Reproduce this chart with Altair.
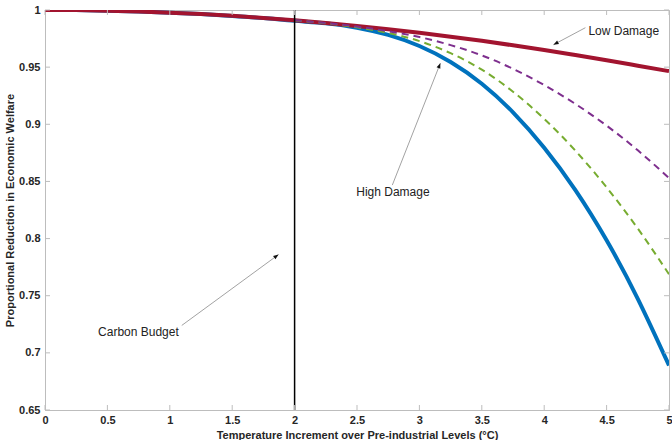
import math
import altair as alt
import pandas as pd

# ---------------- data ----------------
temps = [0, 0.25, 0.5, 0.75, 1, 1.25, 1.5, 1.75, 2, 2.25, 2.5, 2.75, 3,
         3.25, 3.5, 3.75, 4, 4.25, 4.5, 4.75, 5]
low_damage = [1.0, 0.9999, 0.9994, 0.9987, 0.9977, 0.9965, 0.9949, 0.9931,
              0.9910, 0.9886, 0.9860, 0.9831, 0.9800, 0.9766, 0.9730, 0.9691,
              0.9650, 0.9606, 0.9561, 0.9513, 0.9465]
high_damage = [1.0, 0.9999, 0.9994, 0.9987, 0.9977, 0.9964, 0.9948, 0.9929,
               0.9905, 0.9884, 0.9845, 0.9782, 0.9685, 0.9545, 0.9355, 0.9105,
               0.8795, 0.8424, 0.7985, 0.7473, 0.6890]
temps_mid = [2, 2.25, 2.5, 2.75, 3, 3.25, 3.5, 3.75, 4, 4.25, 4.5, 4.75, 5]
mid_low = [0.9910, 0.9886, 0.9855, 0.9814, 0.9763, 0.9693, 0.9603, 0.9485,
           0.9343, 0.9178, 0.8988, 0.8772, 0.8530]
mid_high = [0.9908, 0.9884, 0.9848, 0.9800, 0.9728, 0.9622, 0.9478, 0.9285,
            0.9048, 0.8769, 0.8448, 0.8088, 0.7688]
budget_temp = [2.0]

x_ticks = [0, 0.5, 1, 1.5, 2, 2.5, 3, 3.5, 4, 4.5, 5]
y_ticks = [0.65, 0.7, 0.75, 0.8, 0.85, 0.9, 0.95, 1.0]

# annotations: label, text x/y, arrow start x/y, arrow end x/y
ann_labels = ["Low Damage", "High Damage", "Carbon Budget"]
ann_text_x = [4.354, 2.494, 0.425]
ann_text_y = [0.9818, 0.8406, 0.7180]
arrow_x1 = [4.33, 2.783, 1.096]
arrow_y1 = [0.9845, 0.8468, 0.7240]
arrow_x2 = [4.074, 3.168, 1.871]
arrow_y2 = [0.9696, 0.9535, 0.7860]

# ---------------- layout ----------------
W, H = 624, 400
X_DOM = [0, 5]
Y_DOM = [0.65, 1.0]
GRAY = "#bdbdbd"
FONT = "Liberation Sans"

xs = alt.Scale(domain=X_DOM, nice=False, zero=False)
ys = alt.Scale(domain=Y_DOM, nice=False, zero=False)
x_axis = alt.Axis(values=x_ticks, format="~g", title="Temperature Increment over Pre-industrial Levels (°C)",
                  grid=False, ticks=False, labelFlush=False, labelPadding=4, titlePadding=4,
                  domainColor=GRAY, labelOverlap=False)
y_axis = alt.Axis(values=y_ticks, format="~g", title="Proportional Reduction in Economic Welfare",
                  grid=False, ticks=False, labelFlush=False, labelPadding=5, titlePadding=3,
                  domainColor=GRAY, labelOverlap=False)


def X(field):
    return alt.X(f"{field}:Q", scale=xs, axis=x_axis)


def Y(field):
    return alt.Y(f"{field}:Q", scale=ys, axis=y_axis)


def line_layer(tt, vv, color, width, dash=None):
    df = pd.DataFrame({"T": tt, "V": vv})
    kw = dict(color=color, strokeWidth=width, interpolate="natural", clip=True)
    if dash:
        kw["strokeDash"] = dash
    return alt.Chart(df).mark_line(**kw).encode(x=X("T"), y=Y("V"))


blue = line_layer(temps, high_damage, "#0072BD", 4)
red = line_layer(temps, low_damage, "#A2142F", 4)
green = line_layer(temps_mid, mid_high, "#77AC30", 2, [7, 5])
purple = line_layer(temps_mid, mid_low, "#7E2F8E", 2, [7, 5])

budget = alt.Chart(pd.DataFrame({"T": budget_temp})).mark_rule(
    color="black", strokeWidth=1.5).encode(x=X("T"))

# inward ticks (MATLAB style box)
xt = pd.DataFrame({"T": x_ticks})
yt = pd.DataFrame({"V": y_ticks})
tick_kw = dict(color=GRAY, strokeWidth=1)
tb = alt.Chart(xt).mark_rule(**tick_kw).encode(x=X("T"), y=alt.value(H), y2=alt.value(H - 5))
tt_ = alt.Chart(xt).mark_rule(**tick_kw).encode(x=X("T"), y=alt.value(0), y2=alt.value(5))
tl = alt.Chart(yt).mark_rule(**tick_kw).encode(y=Y("V"), x=alt.value(0), x2=alt.value(5))
tr = alt.Chart(yt).mark_rule(**tick_kw).encode(y=Y("V"), x=alt.value(W), x2=alt.value(W - 5))

# annotations
sx = W / (X_DOM[1] - X_DOM[0])
sy = H / (Y_DOM[1] - Y_DOM[0])
angles = []
for a, b, c, d in zip(arrow_x1, arrow_y1, arrow_x2, arrow_y2):
    dx = (c - a) * sx
    dys = -(d - b) * sy
    angles.append(math.degrees(math.atan2(dx, -dys)) % 360)

ann = pd.DataFrame({"label": ann_labels, "tx": ann_text_x, "ty": ann_text_y,
                    "x1": arrow_x1, "y1": arrow_y1, "x2": arrow_x2, "y2": arrow_y2,
                    "ang": angles})

texts = alt.Chart(ann).mark_text(align="left", baseline="middle", font=FONT,
                                 fontSize=12, color="#222222").encode(
    x=X("tx"), y=Y("ty"), text="label:N")
arrows = alt.Chart(ann).mark_rule(color="#8a8a8a", strokeWidth=0.8).encode(
    x=X("x1"), y=Y("y1"), x2="x2:Q", y2="y2:Q")
heads = alt.Chart(ann).mark_point(shape="M0,0L0.38,1L-0.38,1Z", filled=True, size=110,
                                  color="#111111", opacity=1).encode(
    x=X("x2"), y=Y("y2"), angle=alt.Angle("ang:Q", scale=None))

chart = alt.layer(blue, red, green, purple, budget, tb, tt_, tl, tr, arrows, heads, texts).properties(
    width=W, height=H,
    padding={"left": 45, "top": 10, "right": 3, "bottom": 30},
    autosize=alt.AutoSizeParams(type="none"),
).configure_view(stroke=GRAY, strokeWidth=1).configure_axis(
    labelFont=FONT, labelFontSize=11, labelFontWeight="bold", labelColor="#262626",
    titleFont=FONT, titleFontSize=11, titleFontWeight="bold", titleColor="#262626",
)

chart.save("out.html", embed_options={"renderer": "svg", "actions": False})
